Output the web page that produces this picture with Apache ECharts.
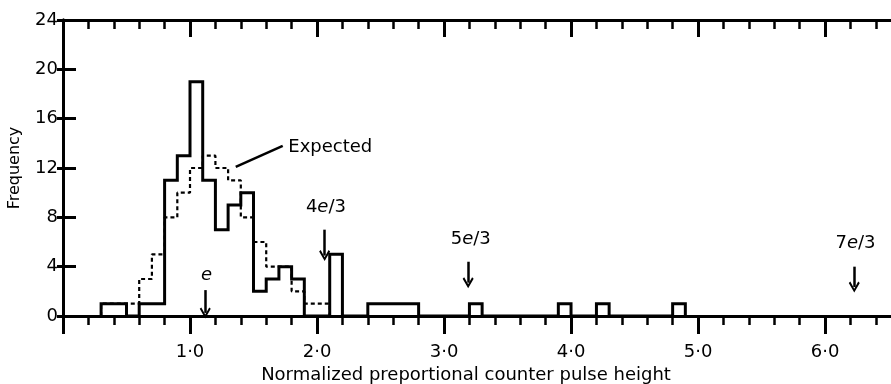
<!DOCTYPE html>
<html>
<head>
<meta charset="utf-8">
<script src="https://cdn.jsdelivr.net/npm/echarts@6/dist/echarts.min.js"></script>
<style>
html,body{margin:0;padding:0;background:#fff;}
#chart{width:891px;height:384px;}
</style>
</head>
<body>
<div id="chart"></div>
<script>
// ---- data ----
const binStart = 0.3;
const binWidth = 0.1;
// observed counts per 0.1 bin starting at 0.3 (0.3 ... 4.8)
const observed = [1,1,0,1,1,11,13,19,11,7,9,10,2,3,4,3,0,0,5,0,0,1,1,1,1,0,0,0,0,1,0,0,0,0,0,0,1,0,0,1,0,0,0,0,0,1];
// expected counts per 0.1 bin starting at 0.3 (0.3 ... 2.0)
const expected = [1,1,1,3,5,8,10,12,13,12,11,8,6,4,4,2,1,1];
const yTicks = [0,4,8,12,16,20,24];
const xTickLabels = ['1·0','2·0','3·0','4·0','5·0','6·0'];
// annotation arrows: [x, yStart, yEnd]
const arrowE = [1.12, 2.1, 0.25];
const arrow4e3 = [2.06, 7.0, 4.9];
const arrow5e3 = [3.19, 4.4, 2.7];
const arrow7e3 = [6.23, 4.0, 2.35];
const labelE = [1.13, 3.3];
const label4e3 = [2.07, 8.8];
const label5e3 = [3.21, 6.2];
const label7e3 = [6.24, 5.9];
const expectedLabel = [1.77, 13.7];
const expectedLeader = [[1.36, 12.1], [1.73, 13.8]];

function stepOutline(counts) {
  const pts = [[binStart, 0]];
  counts.forEach((c, i) => {
    const l = +(binStart + i * binWidth).toFixed(4);
    const r = +(binStart + (i + 1) * binWidth).toFixed(4);
    pts.push([l, c], [r, c]);
  });
  const end = +(binStart + counts.length * binWidth).toFixed(4);
  pts.push([end, 0]);
  return pts;
}

const FONT = 'DejaVu Sans';
const arrowPath = 'path://M5,0 L10,8 L8.6,9.2 L5,3.2 L1.4,9.2 L0,8 Z';

function arrow(a) {
  return [
    {coord: [a[0], a[1]], symbol: 'none'},
    {coord: [a[0], a[2]], symbol: arrowPath, symbolSize: [11, 11]}
  ];
}
function textPoint(coord, str, pos) {
  return {coord: coord, value: 0, label: {formatter: str, position: pos || 'inside'}};
}

const chart = echarts.init(document.getElementById('chart'), null, {renderer: 'canvas'});
const xMin = 0, xMax = 6.535;
const fmtX = v => {
  const r = Math.round(v);
  if (Math.abs(v - r) < 1e-6 && r >= 1 && r <= xTickLabels.length) return xTickLabels[r - 1];
  return '';
};

const option = {
  animation: false,
  backgroundColor: '#fff',
  textStyle: {fontFamily: FONT, color: '#000'},
  grid: {left: 63, top: 20, width: 830, height: 296, containLabel: false, outerBoundsMode: 'none'},
  xAxis: [
    {
      type: 'value', min: xMin, max: xMax, interval: 0.2, position: 'bottom',
      axisLine: {show: true, lineStyle: {color: '#000', width: 3}},
      axisTick: {show: true, length: 9, lineStyle: {color: '#000', width: 2.5}},
      axisLabel: {show: true, formatter: fmtX, margin: 27, fontSize: 18, color: '#000', fontFamily: FONT, showMaxLabel: false},
      splitLine: {show: false},
      name: 'Normalized preportional counter pulse height',
      nameLocation: 'middle', nameGap: 48,
      nameTextStyle: {fontSize: 18, color: '#000', fontFamily: FONT, padding: [0, 24, 0, 0]}
    },
    {
      type: 'value', min: xMin, max: xMax, interval: 1, position: 'bottom',
      axisLine: {show: false},
      axisTick: {show: true, length: 18, lineStyle: {color: '#000', width: 3}},
      axisLabel: {show: false}, splitLine: {show: false}
    },
    {
      type: 'value', min: xMin, max: xMax, interval: 0.2, position: 'top',
      axisLine: {show: true, lineStyle: {color: '#000', width: 3}},
      axisTick: {show: true, inside: true, length: 9, lineStyle: {color: '#000', width: 2.5}},
      axisLabel: {show: false}, splitLine: {show: false}
    },
    {
      type: 'value', min: xMin, max: xMax, interval: 1, position: 'top',
      axisLine: {show: false},
      axisTick: {show: true, inside: true, length: 17, lineStyle: {color: '#000', width: 3}},
      axisLabel: {show: false}, splitLine: {show: false}
    }
  ],
  yAxis: [
    {
      type: 'value', min: yTicks[0], max: yTicks[yTicks.length - 1], interval: 4, position: 'left',
      axisLine: {show: true, lineStyle: {color: '#000', width: 3}},
      axisTick: {show: true, inside: true, length: 13, lineStyle: {color: '#000', width: 3}},
      axisLabel: {show: true, margin: 5, fontSize: 18, color: '#000', fontFamily: FONT},
      splitLine: {show: false},
      name: 'Frequency', nameLocation: 'middle', nameGap: 40, nameRotate: 90,
      nameTextStyle: {fontSize: 16, color: '#000', fontFamily: FONT}
    },
    {
      type: 'value', min: yTicks[0], max: yTicks[yTicks.length - 1], interval: 4, position: 'right',
      axisLine: {show: true, lineStyle: {color: '#000', width: 3}},
      axisTick: {show: true, inside: true, length: 6, lineStyle: {color: '#000', width: 3}},
      axisLabel: {show: false}, splitLine: {show: false}
    }
  ],
  series: [
    {
      name: 'Expected', type: 'line', xAxisIndex: 0, yAxisIndex: 0,
      data: stepOutline(expected), symbol: 'none', z: 3, silent: true,
      lineStyle: {color: '#000', width: 2.2, type: [4, 3]},
      markLine: {
        silent: true, symbol: ['none', 'none'],
        label: {show: false},
        lineStyle: {color: '#000', width: 2.5, type: 'solid'},
        data: [[{coord: expectedLeader[0]}, {coord: expectedLeader[1]}]]
      },
      markPoint: {
        silent: true, symbol: 'rect', symbolSize: 1,
        itemStyle: {color: 'rgba(0,0,0,0)'},
        label: {show: true, color: '#000', fontSize: 18, fontFamily: FONT, distance: 0},
        data: [textPoint(expectedLabel, 'Expected', 'right')]
      }
    },
    {
      name: 'Observed', type: 'line', xAxisIndex: 0, yAxisIndex: 0,
      data: stepOutline(observed), symbol: 'none', z: 4, silent: true,
      lineStyle: {color: '#000', width: 3, join: 'miter'},
      markLine: {
        silent: true, symbol: ['none', 'none'],
        label: {show: false},
        lineStyle: {color: '#000', width: 2.5, type: 'solid'},
        data: [arrow(arrowE), arrow(arrow4e3), arrow(arrow5e3), arrow(arrow7e3)]
      },
      markPoint: {
        silent: true, symbol: 'rect', symbolSize: 1,
        itemStyle: {color: 'rgba(0,0,0,0)'},
        label: {
          show: true, color: '#000', fontSize: 18, fontFamily: FONT,
          rich: {
            n: {fontSize: 18, fontFamily: FONT, color: '#000'},
            i: {fontSize: 18, fontFamily: FONT, fontStyle: 'italic', color: '#000'}
          }
        },
        data: [
          textPoint(labelE, '{i|e}'),
          textPoint(label4e3, '{n|4}{i|e}{n|/3}'),
          textPoint(label5e3, '{n|5}{i|e}{n|/3}'),
          textPoint(label7e3, '{n|7}{i|e}{n|/3}')
        ]
      }
    }
  ]
};
chart.setOption(option);
</script>
</body>
</html>
